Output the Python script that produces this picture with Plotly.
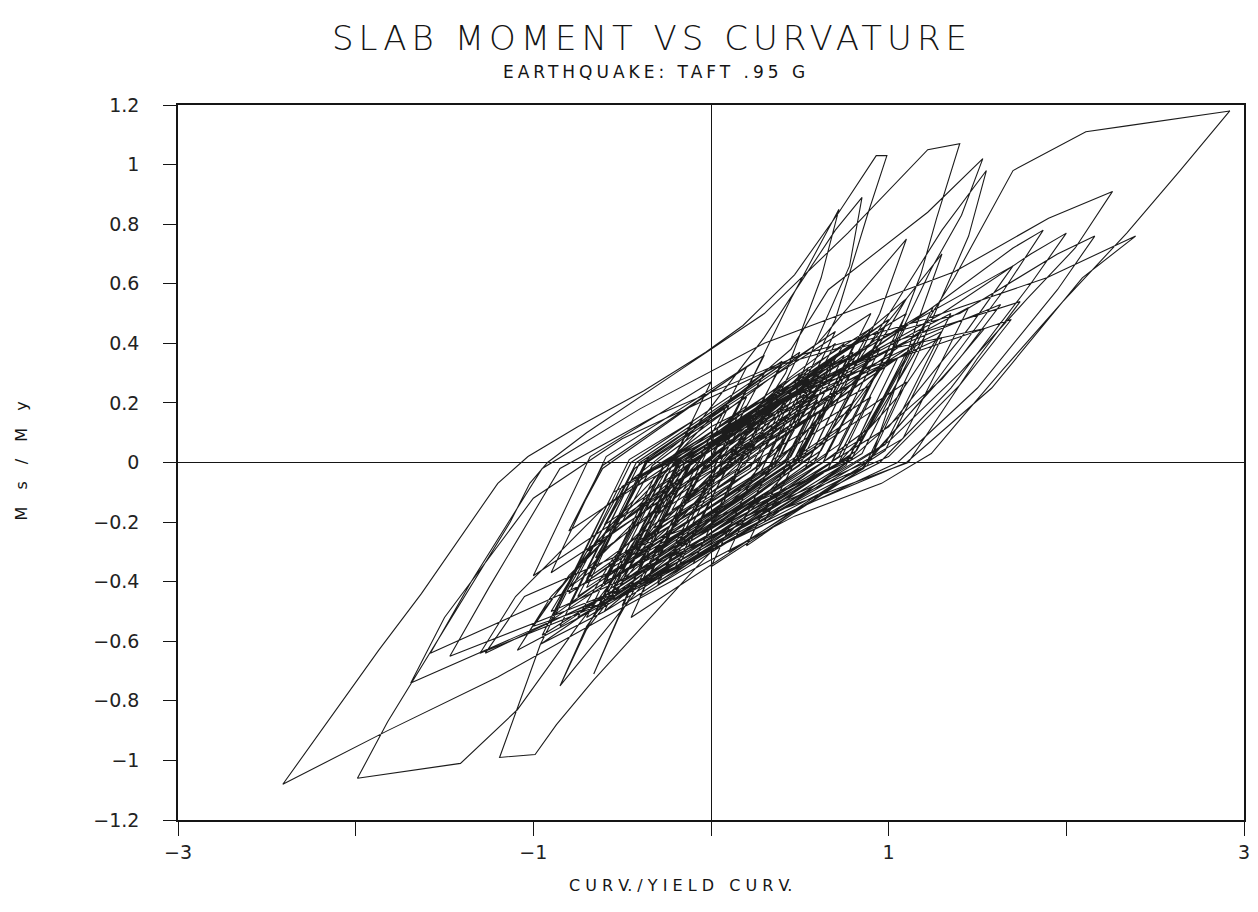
import plotly.graph_objects as go

# ---------------------------------------------------------------
# Slab moment / yield moment vs. curvature / yield curvature
# (Taft record scaled to .95 g).  The response path is stored in
# consecutive phases; every phase continues where the last ended.
# ---------------------------------------------------------------

# opening small cycles
curv_opening = [0.00, 0.18, 0.08, -0.14, -0.02, 0.30, 0.15, -0.22, -0.05, 0.42, 0.22,
                -0.32, -0.10, 0.55, 0.28, -0.42, -0.16, 0.70, 0.35, -0.55, -0.20]
mom_opening = [0.00, 0.10, -0.02, -0.12, 0.01, 0.15, -0.02, -0.16, 0.02, 0.21, -0.02,
               -0.22, 0.02, 0.28, -0.03, -0.28, 0.02, 0.36, -0.02, -0.35, 0.03]

# first yield excursions (steep positive spikes, third negative tip)
curv_spikes = [0.30, 0.70, 0.85, 0.78, 0.50, 0.20, -0.30, -0.70, -0.85,
               -0.72, -0.45, -0.15, 0.35, 0.75,
               0.50, 0.15, -0.35, -0.60,
               -0.35, 0.00, 0.45, 0.90,
               0.65, 0.30, -0.20, -0.50,
               -0.25, 0.10,
               0.45, 0.72, 0.62, 0.42, 0.10, -0.40, -0.66,
               -0.52, -0.20, 0.20, 0.70, 1.10,
               0.85, 0.45, -0.20, -0.60, -0.96,
               -1.19, -0.99, -0.87, -0.66, -0.08, 0.40, 0.95, 1.30,
               1.55, 1.45, 1.20, 0.90, 0.40, -0.30, -1.09,
               -0.95, -0.55, 0.00, 0.45,
               0.66, 1.22, 1.53, 1.41, 1.24, 1.00, 0.60, 0.00, -0.60, -1.27,
               -1.05, -0.40, 0.30, 0.76]
mom_spikes = [0.42, 0.78, 0.89, 0.66, 0.28, 0.02, -0.25, -0.56, -0.75,
              -0.58, -0.28, -0.02, 0.22, 0.40,
              0.14, -0.10, -0.32, -0.44,
              -0.18, 0.05, 0.28, 0.45,
              0.18, -0.05, -0.28, -0.40,
              -0.12, 0.12,
              0.55, 0.85, 0.62, 0.30, 0.00, -0.35, -0.71,
              -0.52, -0.18, 0.10, 0.35, 0.55,
              0.30, 0.05, -0.30, -0.50, -0.61,
              -0.99, -0.98, -0.88, -0.73, -0.35, -0.05, 0.45, 0.78,
              0.98, 0.76, 0.42, 0.12, -0.10, -0.38, -0.63,
              -0.50, -0.20, 0.15, 0.38,
              0.58, 0.84, 1.02, 0.83, 0.65, 0.35, 0.05, -0.22, -0.45, -0.64,
              -0.45, -0.28, -0.12, 0.00]

# largest cycle, followed by the second negative tip
curv_major = [1.18, 1.37, 1.70, 2.11, 2.34, 2.92,
              2.64, 2.34, 1.98, 1.64, 1.41, 1.24, 0.96, 0.47, -0.01, -0.60, -1.20, -1.82, -2.41,
              -1.87, -1.63, -1.35, -1.20, -1.03, -0.75, -0.38, -0.03, 0.18, 0.47, 0.72, 0.93, 0.99,
              0.88, 0.70, 0.40, -0.30, -0.74, -1.09, -1.41, -1.99,
              -1.82, -1.13, -1.02, -0.92, -0.70, -0.20, 0.30, 0.77, 1.22, 1.40,
              1.27, 1.18, 1.00, 0.70, 0.20, -0.50]
mom_major = [0.44, 0.62, 0.98, 1.11, 1.13, 1.18,
             0.98, 0.77, 0.54, 0.31, 0.15, 0.03, -0.07, -0.18, -0.33, -0.52, -0.72, -0.90, -1.08,
             -0.63, -0.44, -0.20, -0.07, 0.02, 0.12, 0.24, 0.37, 0.46, 0.63, 0.84, 1.03, 1.03,
             0.83, 0.48, 0.12, -0.20, -0.54, -0.83, -1.01, -1.06,
             -0.87, -0.20, -0.07, 0.00, 0.10, 0.30, 0.50, 0.77, 1.05, 1.07,
             0.82, 0.63, 0.35, 0.10, -0.10, -0.35]

# strong cycles reaching the right-hand peaks and the left fan
curv_strong = [-1.58, -1.35, -0.95, -0.40, 0.30, 1.37, 1.90, 2.26,
               2.05, 1.78, 1.40, 1.00, 0.30, -0.40, -1.47,
               -1.25, -0.85, -0.30, 0.50, 1.20, 1.89, 2.21, 2.39,
               2.09, 1.58, 1.10, 0.50, -0.20, -1.69,
               -1.50, -1.00, -0.50, 0.40, 1.40, 1.95, 2.16,
               1.95, 1.50, 1.05, 0.40, -0.30, -1.09,
               -0.90, -0.50, 0.10, 1.30, 1.80, 2.00,
               1.80, 1.35, 0.95, 0.30, -0.40, -0.85,
               -0.70, -0.30, 0.20, 1.20, 1.70, 1.87,
               1.65, 1.20, 0.85, 0.20, -0.50, -1.00,
               -0.80, -0.30, 0.30, 1.00, 1.74,
               1.50, 1.11, 0.16, -0.60, -0.90,
               -0.70, -0.20, 0.60, 1.63,
               1.40, 0.87, 0.20, -0.55, -1.30,
               -1.10, -0.60, 0.00, 0.80, 1.70,
               1.45, 1.00, 0.40, -0.30, -0.96,
               -0.80, -0.30, 0.40, 1.00, 1.54,
               1.30, 0.80, 0.10, -0.62,
               -0.45, 0.00, 0.60, 1.30,
               1.05, 0.72, 0.00, -0.75,
               -0.55, -0.10, 0.50, 1.69,
               1.40, 1.00, 0.30, -0.40]
mom_strong = [-0.64, -0.40, -0.02, 0.18, 0.40, 0.64, 0.82, 0.91,
              0.72, 0.55, 0.30, 0.07, -0.18, -0.40, -0.65,
              -0.42, -0.02, 0.16, 0.36, 0.48, 0.62, 0.71, 0.76,
              0.62, 0.25, 0.00, -0.15, -0.35, -0.74,
              -0.52, -0.12, 0.08, 0.33, 0.50, 0.70, 0.76,
              0.58, 0.25, 0.00, -0.18, -0.38, -0.63,
              -0.45, -0.20, 0.10, 0.50, 0.70, 0.77,
              0.60, 0.25, 0.00, -0.20, -0.42, -0.75,
              -0.55, -0.22, 0.08, 0.50, 0.72, 0.78,
              0.58, 0.22, -0.02, -0.22, -0.45, -0.55,
              -0.38, -0.08, 0.18, 0.40, 0.54,
              0.35, 0.00, -0.21, -0.42, -0.50,
              -0.30, 0.00, 0.28, 0.53,
              0.35, 0.00, -0.18, -0.46, -0.64,
              -0.45, -0.15, 0.12, 0.36, 0.66,
              0.45, 0.12, -0.10, -0.34, -0.61,
              -0.42, -0.12, 0.20, 0.38, 0.45,
              0.28, 0.02, -0.20, -0.48,
              -0.30, -0.05, 0.24, 0.44,
              0.22, 0.00, -0.25, -0.52,
              -0.32, -0.06, 0.24, 0.48,
              0.26, 0.02, -0.16, -0.36]

# long tail of moderate cycles: reload, peak, unload, reverse
curv_tail = [-0.10,
             0.80, 0.50, -0.50, -0.17,
             0.60, 0.34, -0.70, -0.35,
             0.90, 0.48, -0.30, -0.04,
             1.10, 0.72, -0.20, 0.11,
             0.70, 0.50, -0.40, -0.10,
             0.50, 0.30, -0.80, -0.43,
             0.40, 0.12, -0.60, -0.36,
             0.20, 0.02, -0.90, -0.59,
             0.30, 0.00, -0.50, -0.33,
             0.60, 1.10, 0.95, 0.56, 0.00, 0.18,
             1.20, 0.86, 0.10, 0.35,
             0.90, 0.72, -0.30, 0.04,
             0.60, 0.42, -0.60, -0.26,
             0.50, 0.25, -0.40, -0.18,
             0.80, 0.48, -0.20, 0.02,
             0.40, 0.27, -0.70, -0.37,
             0.10, -0.06, -1.00, -0.68,
             0.00, -0.22, -0.80, -0.61,
             0.30, 0.00, -0.60, -0.40,
             0.70, 0.33, -0.10, 0.04,
             1.00, 0.68, -0.20, 0.09,
             0.90, 1.30, 1.15, 0.90, 0.20, 0.43,
             1.10, 0.88, 0.00, 0.29,
             0.80, 0.63, -0.40, -0.06,
             0.60, 0.38, -0.50, -0.21,
             0.90, 0.53, -0.10, 0.11,
             0.50, 0.37, -0.60, -0.27,
             0.20, 0.04, -0.70, -0.45,
             0.40, 0.12, -0.30, -0.16,
             0.70, 0.42, -0.50, -0.19,
             1.00, 0.60, -0.20, 0.07,
             0.60, 0.42, -0.90, -0.46,
             -0.10, -0.22, -0.80, -0.61,
             0.20, -0.07, -0.60, -0.42,
             0.50, 0.19, -0.30, -0.13,
             0.80, 0.49, 0.00, 0.17,
             1.10, 0.79, 0.30, 0.47,
             0.90, 0.76, -0.10, 0.18,
             0.60, 0.46, -0.40, -0.12,
             0.30, 0.16]
mom_tail = [0.01,
            0.36, 0.02, -0.40, -0.01,
            0.31, -0.02, -0.42, 0.02,
            0.50, 0.01, -0.31, -0.02,
            0.46, 0.02, -0.37, 0.01,
            0.24, -0.01, -0.36, 0.02,
            0.24, 0.00, -0.44, -0.02,
            0.33, 0.02, -0.29, 0.00,
            0.22, -0.01, -0.37, 0.02,
            0.36, 0.01, -0.20, -0.01,
            0.40, 0.75, 0.50, 0.02, -0.22, 0.00,
            0.41, -0.02, -0.30, 0.01,
            0.22, 0.00, -0.41, -0.01,
            0.22, 0.01, -0.41, 0.00,
            0.30, -0.02, -0.26, 0.01,
            0.39, 0.00, -0.27, -0.02,
            0.15, 0.01, -0.39, 0.00,
            0.19, -0.01, -0.38, 0.02,
            0.27, 0.00, -0.23, -0.01,
            0.36, 0.02, -0.24, 0.00,
            0.44, -0.01, -0.17, 0.01,
            0.38, 0.00, -0.35, -0.02,
            0.40, 0.70, 0.45, 0.01, -0.28, 0.00,
            0.27, -0.01, -0.35, 0.02,
            0.20, 0.00, -0.41, -0.01,
            0.26, 0.01, -0.35, 0.00,
            0.44, -0.02, -0.25, 0.01,
            0.16, 0.00, -0.39, -0.02,
            0.19, 0.01, -0.30, 0.00,
            0.34, -0.01, -0.17, 0.02,
            0.34, 0.00, -0.37, -0.01,
            0.48, 0.02, -0.32, 0.00,
            0.21, -0.01, -0.53, 0.01,
            0.14, 0.00, -0.23, -0.02,
            0.32, 0.01, -0.21, 0.00,
            0.37, -0.01, -0.20, 0.02,
            0.37, 0.00, -0.20, -0.01,
            0.37, 0.01, -0.20, 0.00,
            0.17, -0.01, -0.34, 0.02,
            0.17, 0.00, -0.34, -0.01,
            0.17, 0.00]

# closing cycles spread along the band of the hysteresis cloud
curv_late = [1.20, 0.85, -0.60, -0.25,
             0.95, 0.62, -0.85, -0.45,
             1.35, 0.98, -0.40, -0.05,
             1.05, 0.78, -0.70, -0.32,
             1.25, 0.85, -0.55, -0.20,
             0.85, 0.58, -0.95, -0.55,
             0.60, 0.32, -0.75, -0.42,
             1.45, 1.08, -0.30, 0.02,
             1.15, 0.82, -0.50, -0.18,
             0.75, 0.45, -0.65, -0.30,
             1.00, 0.62, -0.80, -0.45,
             1.30, 0.98, -0.45, -0.10,
             0.90, 0.66, -0.60, -0.28,
             0.70, 0.38, -0.90, -0.50,
             1.10, 0.72, -0.35, -0.05,
             0.55, 0.28, -0.70, -0.38,
             0.95, 0.64, -0.55, -0.22,
             0.40, 0.15, -0.80, -0.45,
             0.30, 0.05, -0.65, -0.38,
             0.20, 0.05]
mom_late = [0.45, 0.03, -0.50, -0.04,
            0.42, 0.04, -0.55, -0.06,
            0.50, 0.06, -0.45, -0.02,
            0.35, 0.02, -0.52, -0.05,
            0.52, 0.08, -0.42, -0.02,
            0.30, 0.00, -0.58, -0.10,
            0.28, -0.02, -0.45, -0.08,
            0.52, 0.08, -0.40, -0.04,
            0.40, 0.04, -0.48, -0.06,
            0.36, 0.02, -0.50, -0.08,
            0.48, 0.06, -0.48, -0.06,
            0.42, 0.04, -0.52, -0.06,
            0.26, -0.02, -0.40, -0.04,
            0.40, 0.04, -0.52, -0.08,
            0.50, 0.06, -0.38, -0.02,
            0.32, 0.02, -0.40, -0.04,
            0.38, 0.02, -0.46, -0.06,
            0.26, 0.00, -0.42, -0.06,
            0.30, 0.02, -0.32, -0.04,
            0.16, 0.00]

curvature = curv_opening + curv_spikes + curv_major + curv_strong + curv_tail + curv_late
moment = mom_opening + mom_spikes + mom_major + mom_strong + mom_tail + mom_late

x_ticks = [-3, -2, -1, 0, 1, 2, 3]
x_tick_text = ["\u22123", "", "\u22121", "", "1", "", "3"]
y_ticks = [-1.2, -1.0, -0.8, -0.6, -0.4, -0.2, 0.0, 0.2, 0.4, 0.6, 0.8, 1.0, 1.2]
y_tick_text = ["\u22121.2", "\u22121", "\u22120.8", "\u22120.6", "\u22120.4", "\u22120.2",
               "0", "0.2", "0.4", "0.6", "0.8", "1", "1.2"]

INK = "#151515"
FONT = "DejaVu Sans"


def spaced(text, px):
    return '<span style="letter-spacing:%gpx">%s</span>' % (px, text)


fig = go.Figure()
fig.add_trace(go.Scatter(
    x=curvature, y=moment, mode="lines",
    line=dict(color="#1c1c1c", width=1.1),
    hoverinfo="skip",
))

axis_common = dict(
    showgrid=False,
    zeroline=True, zerolinecolor=INK, zerolinewidth=1.3,
    showline=True, linecolor=INK, linewidth=1.6, mirror=True,
    ticks="outside", tickcolor=INK, tickwidth=1.3,
    tickfont=dict(family=FONT, size=19, color="#222222"),
)

fig.update_layout(
    width=1258, height=912,
    margin=dict(l=178, r=8, t=105, b=92),
    paper_bgcolor="white", plot_bgcolor="white",
    showlegend=False,
    xaxis=dict(range=[-3, 3], tickmode="array", tickvals=x_ticks, ticktext=x_tick_text,
               ticklen=14, ticklabelstandoff=0, **axis_common),
    yaxis=dict(range=[-1.2, 1.2], tickmode="array", tickvals=y_ticks, ticktext=y_tick_text,
               ticklen=13, ticklabelstandoff=20, **axis_common),
    annotations=[
        dict(text=spaced("SLAB MOMENT VS CURVATURE", 5), x=0.445, y=1.0937,
             xref="paper", yref="paper", xanchor="center", yanchor="middle", showarrow=False,
             font=dict(family=FONT, size=34, color=INK, weight=200)),
        dict(text=spaced("EARTHQUAKE: TAFT .95 G", 4), x=0.448, y=1.046,
             xref="paper", yref="paper", xanchor="center", yanchor="middle", showarrow=False,
             font=dict(family=FONT, size=17, color=INK)),
        dict(text="C U R V. / Y I E L D   C U R V.", x=0.471, y=-0.091,
             xref="paper", yref="paper", xanchor="center", yanchor="middle", showarrow=False,
             font=dict(family=FONT, size=16, color=INK)),
        dict(text=spaced("M s / M y", 6), x=-0.147, y=0.506,
             xref="paper", yref="paper", xanchor="center", yanchor="middle", showarrow=False,
             textangle=-90, font=dict(family=FONT, size=16, color=INK)),
    ],
)

fig.write_html("out.html")
